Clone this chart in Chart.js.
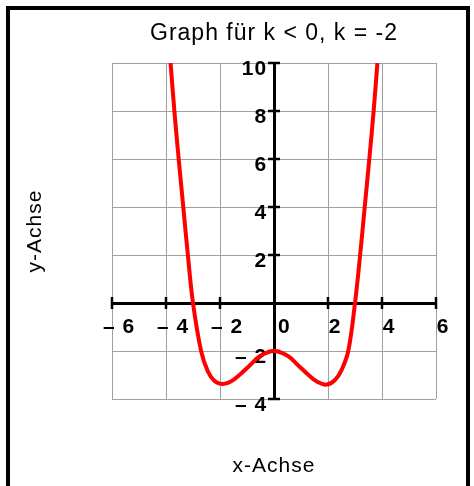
<!DOCTYPE html>
<html>
<head>
<meta charset="utf-8">
<script src="https://cdn.jsdelivr.net/npm/chart.js@4.4.1/dist/chart.umd.min.js"></script>
<style>
    html, body { margin: 0; padding: 0; background: #fff; }
    #wrap { position: relative; width: 474px; height: 486px; overflow: hidden; }
    #frame { position: absolute; left: 6px; top: 6px; width: 456px; height: 520px;
             border: 4px solid #000; border-bottom: none; }
    canvas { position: absolute; left: 0; top: 0; }
</style>
</head>
<body>
<div id="wrap">
    <div id="frame"></div>
    <canvas id="graph" width="474" height="486"></canvas>
</div>
<script>
// ==========================================
// Data
// ==========================================
const curveX = [-3.83, -3.69, -3.53, -3.36, -3.19, -3.0, -2.7, -2.45, -2.2, -1.9, -1.6, -1.25, -0.9, -0.5, 0,
                0.5, 0.9, 1.25, 1.6, 1.95, 2.25, 2.5, 2.75, 3.0, 3.19, 3.36, 3.53, 3.69, 3.83];
const curveY = [10, 8, 6, 4, 2, 0, -2.0, -2.85, -3.25, -3.38, -3.27, -2.97, -2.6, -2.2, -2.0,
                -2.2, -2.6, -2.97, -3.28, -3.4, -3.22, -2.8, -2.0, 0, 2, 4, 6, 8, 10];

const xRange = [-6, 6];
const yRange = [-4, 10];
const tickStep = 2;

const titleText = 'Graph für k < 0, k = -2';
const xTitle = 'x-Achse';
const yTitle = 'y-Achse';

const FONT = 'Liberation Sans';
const RED = '#ff0000';
const GRID = 'rgb(160, 160, 160)';

// ==========================================
// Helpers
// ==========================================
function tickLabel(v) {
    if (v < 0) return '\u2013 ' + (-v);
    if (v === 0) return ' 0';
    return String(v);
}

// Vorlage hat etwas breiter laufende Schrift
const wideText = {
    id: 'wideText',
    beforeDraw(chart) { chart.ctx.letterSpacing = '1px'; }
};

// kleine Striche quer über die Achsen
const crossTicks = {
    id: 'crossTicks',
    beforeDatasetsDraw(chart) {
        const { ctx, scales: { x, y } } = chart;
        const x0 = x.getPixelForValue(0), y0 = y.getPixelForValue(0);
        ctx.save();
        ctx.strokeStyle = '#000';
        ctx.lineWidth = 2.5;
        ctx.beginPath();
        x.ticks.forEach(t => {
            if (t.value === 0) return;
            const px = x.getPixelForValue(t.value);
            ctx.moveTo(px, y0 - 6); ctx.lineTo(px, y0 + 6);
        });
        y.ticks.forEach(t => {
            if (t.value === 0) return;
            const py = y.getPixelForValue(t.value);
            ctx.moveTo(x0 - 6, py); ctx.lineTo(x0 + 6, py);
        });
        ctx.stroke();
        ctx.restore();
    }
};

// ==========================================
// Chart
// ==========================================
Chart.defaults.font.family = FONT;
Chart.defaults.color = '#000';

const points = curveX.map((x, i) => ({ x, y: curveY[i] }));

new Chart(document.getElementById('graph').getContext('2d'), {
    type: 'line',
    data: {
        datasets: [{
            data: points,
            borderColor: RED,
            borderWidth: 4,
            pointRadius: 0,
            fill: false,
            tension: 0.4
        }]
    },
    options: {
        responsive: false,
        devicePixelRatio: 1,
        animation: false,
        layout: { padding: { left: 0, right: 38, top: 0, bottom: 0 } },
        scales: {
            x: {
                type: 'linear',
                position: { y: 0 },
                min: xRange[0], max: xRange[1],
                ticks: {
                    stepSize: tickStep,
                    callback: tickLabel,
                    font: { size: 21, weight: 'bold' },
                    color: '#000',
                    padding: 12,
                    labelOffset: 7,
                    maxRotation: 0
                },
                grid: { color: GRID, lineWidth: 1, drawTicks: false },
                border: { display: true, color: '#000', width: 3 }
            },
            y: {
                type: 'linear',
                position: { x: 0 },
                min: yRange[0], max: yRange[1],
                ticks: {
                    stepSize: tickStep,
                    callback: v => (v === 0 ? '' : tickLabel(v) + ' '),
                    font: { size: 21, weight: 'bold' },
                    color: '#000',
                    labelOffset: 6
                },
                grid: { color: GRID, lineWidth: 1, drawTicks: false },
                border: { display: true, color: '#000', width: 3 }
            },
            xt: {
                type: 'linear',
                position: 'bottom',
                grid: { display: false, drawTicks: false },
                border: { display: false },
                ticks: { display: false },
                title: { display: true, text: xTitle, font: { size: 21 }, color: '#000',
                         padding: { top: 54.4, bottom: 7.4 } }
            },
            yt: {
                type: 'linear',
                position: 'left',
                grid: { display: false, drawTicks: false },
                border: { display: false },
                ticks: { display: false },
                title: { display: true, text: yTitle, font: { size: 21 }, color: '#000',
                         padding: { top: 22.4, bottom: 64.4 } }
            }
        },
        plugins: {
            legend: { display: false },
            tooltip: { enabled: false },
            title: {
                display: true,
                text: titleText,
                fullSize: false,
                font: { size: 23, weight: 'normal' },
                color: '#000',
                padding: { top: 19.9, bottom: 15.5 }
            }
        }
    },
    plugins: [wideText, crossTicks]
});
</script>
</body>
</html>
